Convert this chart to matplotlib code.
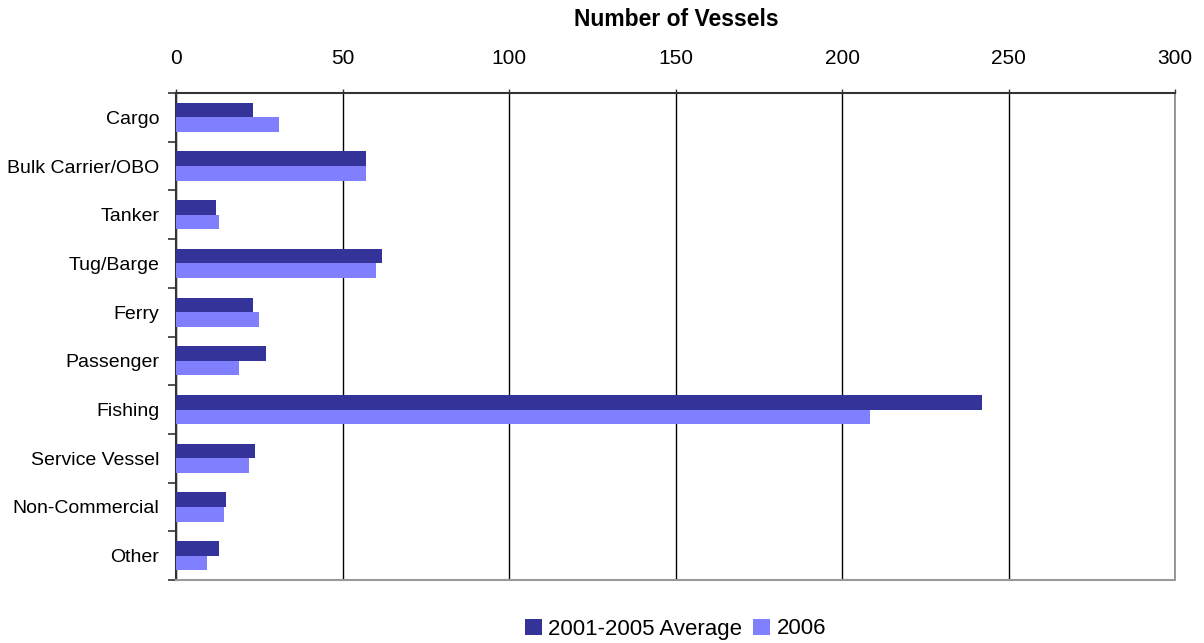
import numpy as np
import matplotlib.pyplot as plt
from matplotlib.ticker import FixedLocator

plt.rcParams['font.family'] = ['Liberation Sans', 'DejaVu Sans']

categories = ['Cargo', 'Bulk Carrier/OBO', 'Tanker', 'Tug/Barge', 'Ferry',
              'Passenger', 'Fishing', 'Service Vessel', 'Non-Commercial', 'Other']
avg_2001_2005 = [23, 57, 12, 62, 23, 27, 242, 23.6, 15, 13]
year_2006 = [31, 57, 13, 60, 25, 19, 208.5, 22, 14.4, 9.3]
x_ticks = [0, 50, 100, 150, 200, 250, 300]

dark = '#333399'
light = '#8080FF'

fig = plt.figure(figsize=(12.04, 6.43), dpi=100)
ax = fig.add_axes([176 / 1204, 1 - 580 / 643, (1175 - 176) / 1204, (580 - 93) / 643])

y = np.arange(len(categories))
h = 0.30
ax.barh(y - h / 2, avg_2001_2005, height=h, color=dark, label='2001-2005 Average', zorder=3)
ax.barh(y + h / 2, year_2006, height=h, color=light, label='2006', zorder=3)

ax.set_xlim(0, 300)
ax.set_ylim(len(categories) - 0.5, -0.5)

ax.xaxis.tick_top()
ax.set_xticks(x_ticks)
ax.set_xticklabels([str(t) for t in x_ticks], fontsize=15)
ax.tick_params(axis='x', direction='out', length=3, width=1, pad=15, color='#333333')
ax.grid(axis='x', color='black', linewidth=1, zorder=0)

# axis title sits above the tick labels
fig.text(676 / 1204, 1 - 19 / 643, 'Number of Vessels', ha='center', va='center',
         fontsize=16.5, fontweight='bold')

ax.set_yticks(y)
ax.set_yticklabels(categories, fontsize=14)
ax.tick_params(axis='y', which='major', length=0, pad=12)
ax.yaxis.set_minor_locator(FixedLocator(np.arange(-0.5, len(categories), 1)))
ax.tick_params(axis='y', which='minor', direction='out', length=6, width=1.2, color='#333333')

ax.spines['top'].set_color('#333333')
ax.spines['top'].set_linewidth(1.5)
ax.spines['left'].set_color('#333333')
ax.spines['left'].set_linewidth(1.5)
ax.spines['bottom'].set_color('#999999')
ax.spines['bottom'].set_linewidth(1.5)
ax.spines['right'].set_color('#888888')
ax.spines['right'].set_linewidth(1.2)

fig.legend(loc='center', bbox_to_anchor=(675.5 / 1204, 1 - 629 / 643), ncol=2,
           frameon=False, fontsize=16, handlelength=0.75, handleheight=0.75,
           handletextpad=0.3, columnspacing=0.5, borderaxespad=0)

fig.savefig('out.png', dpi=100)
